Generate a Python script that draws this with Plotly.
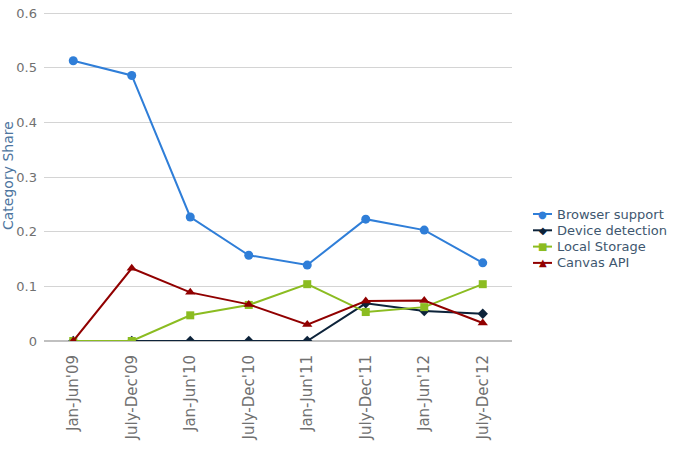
import plotly.graph_objects as go

categories = ["Jan-Jun'09", "July-Dec'09", "Jan-Jun'10", "July-Dec'10",
              "Jan-Jun'11", "July-Dec'11", "Jan-Jun'12", "July-Dec'12"]
browser_support = [0.513, 0.486, 0.227, 0.157, 0.139, 0.223, 0.203, 0.143]
device_detection = [0.0, 0.0, 0.0, 0.0, 0.0, 0.069, 0.055, 0.050]
local_storage = [0.0, 0.0, 0.047, 0.066, 0.104, 0.053, 0.062, 0.104]
canvas_api = [0.0, 0.133, 0.089, 0.067, 0.030, 0.073, 0.074, 0.033]

series = [
    ("Browser support", browser_support, "#2f7ed8", "circle", 9, "●"),
    ("Device detection", device_detection, "#0d233a", "diamond", 8, "◆"),
    ("Local Storage", local_storage, "#8bbc21", "square", 8, "■"),
    ("Canvas API", canvas_api, "#910000", "triangle-up", 9, "▲"),
]

FONT = "DejaVu Sans"
TOP, BOTTOM, LEFT, RIGHT = 11, 341, 44, 512
fig = go.Figure()
for name, vals, color, sym, size, glyph in series:
    fig.add_trace(go.Scatter(
        x=categories, y=vals, name=name, mode="lines+markers",
        line=dict(color=color, width=2),
        marker=dict(symbol=sym, size=size, color=color),
        showlegend=False,
    ))

# custom compact legend
for i, (name, vals, color, sym, size, glyph) in enumerate(series):
    ypix = 214 + i * 16.3
    yp = 1 - (ypix - TOP) / (BOTTOM - TOP)
    fig.add_shape(type="line", xref="paper", yref="paper",
                  x0=(533 - LEFT) / (RIGHT - LEFT), x1=(552 - LEFT) / (RIGHT - LEFT),
                  y0=yp, y1=yp, line=dict(color=color, width=2))
    fig.add_annotation(xref="paper", yref="paper", x=(542.5 - LEFT) / (RIGHT - LEFT), y=yp,
                       text=glyph, showarrow=False, xanchor="center", yanchor="middle",
                       font=dict(family=FONT, size=10, color=color))
    fig.add_annotation(xref="paper", yref="paper", x=(555 - LEFT) / (RIGHT - LEFT), y=yp,
                       text=name, showarrow=False, xanchor="left", yanchor="middle",
                       font=dict(family=FONT, size=13, color="#3e576f"))

fig.add_annotation(xref="paper", yref="paper", x=0, y=0.5, xshift=-36,
                   text="Category Share", textangle=-90, showarrow=False,
                   xanchor="center", yanchor="middle",
                   font=dict(family=FONT, size=14, color="#4d759e"))

fig.update_layout(
    width=679, height=450,
    margin=dict(l=LEFT, r=679 - RIGHT, t=TOP, b=450 - BOTTOM),
    paper_bgcolor="white", plot_bgcolor="white",
    font=dict(family=FONT, size=12, color="#707070"),
    showlegend=False,
)
fig.update_xaxes(type="category", range=[-0.5, 7.5], tickangle=-90, automargin=False,
                 showgrid=False, showline=False, ticks="", ticklabelstandoff=10,
                 tickfont=dict(size=15, color="#707070"))
fig.update_yaxes(range=[0, 0.604], tickvals=[0, 0.1, 0.2, 0.3, 0.4, 0.5, 0.6],
                 ticktext=["0", "0.1", "0.2", "0.3", "0.4", "0.5", "0.6"],
                 automargin=False, showgrid=True, gridcolor="#d4d4d4",
                 gridwidth=1, zeroline=True, zerolinecolor="#c0c0c0", zerolinewidth=2,
                 showline=False, ticks="", ticklabelstandoff=6,
                 tickfont=dict(size=13, color="#707070"))

fig.write_html("out.html")
